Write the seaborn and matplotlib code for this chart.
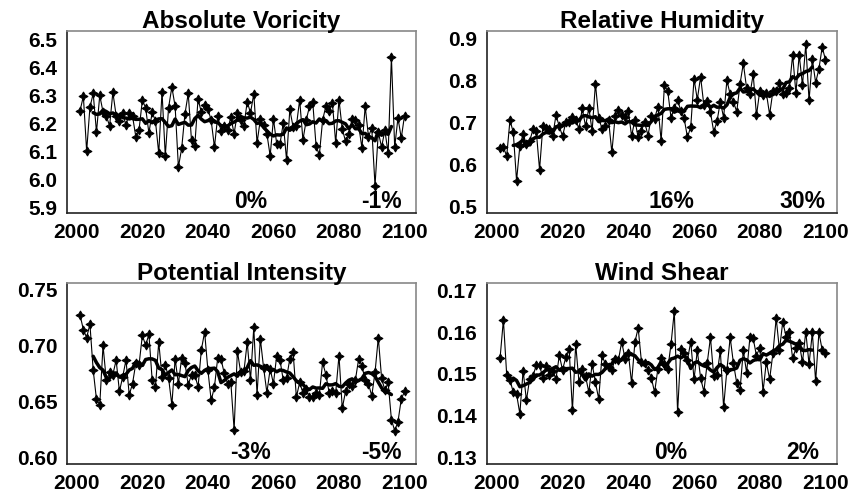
import numpy as np
import pandas as pd
import matplotlib
matplotlib.use("Agg")
import matplotlib.pyplot as plt
import seaborn as sns

years = list(range(2001, 2101))

# -----------------------------
# data
# -----------------------------
vorticity = [
    6.245, 6.296, 6.100, 6.256, 6.306, 6.168, 6.299, 6.240, 6.226, 6.190,
    6.310, 6.227, 6.206, 6.236, 6.192, 6.237, 6.225, 6.152, 6.177, 6.282,
    6.255, 6.164, 6.239, 6.207, 6.092, 6.312, 6.083, 6.255, 6.329, 6.260,
    6.043, 6.110, 6.233, 6.306, 6.138, 6.120, 6.287, 6.238, 6.263, 6.251,
    6.210, 6.114, 6.225, 6.171, 6.190, 6.174, 6.222, 6.162, 6.237, 6.212,
    6.190, 6.277, 6.236, 6.305, 6.129, 6.213, 6.194, 6.162, 6.083, 6.215,
    6.126, 6.126, 6.200, 6.069, 6.249, 6.186, 6.190, 6.283, 6.140, 6.210,
    6.260, 6.274, 6.120, 6.085, 6.210, 6.261, 6.242, 6.271, 6.129, 6.283,
    6.179, 6.135, 6.162, 6.215, 6.210, 6.192, 6.112, 6.260, 6.152, 6.182,
    5.977, 6.168, 6.114, 6.174, 6.093, 6.436, 6.114, 6.219, 6.146, 6.227,
]

humidity = [
    0.639, 0.641, 0.619, 0.705, 0.676, 0.561, 0.643, 0.672, 0.647, 0.655,
    0.683, 0.679, 0.587, 0.690, 0.686, 0.683, 0.667, 0.717, 0.690, 0.667,
    0.700, 0.700, 0.713, 0.706, 0.684, 0.733, 0.690, 0.734, 0.679, 0.792,
    0.710, 0.685, 0.690, 0.705, 0.628, 0.714, 0.728, 0.718, 0.713, 0.727,
    0.667, 0.705, 0.664, 0.680, 0.700, 0.668, 0.714, 0.708, 0.737, 0.656,
    0.788, 0.774, 0.711, 0.733, 0.754, 0.726, 0.709, 0.664, 0.689, 0.803,
    0.754, 0.808, 0.740, 0.751, 0.724, 0.677, 0.702, 0.749, 0.711, 0.800,
    0.766, 0.748, 0.725, 0.791, 0.840, 0.781, 0.766, 0.814, 0.716, 0.775,
    0.765, 0.770, 0.718, 0.774, 0.774, 0.794, 0.766, 0.770, 0.781, 0.860,
    0.770, 0.860, 0.788, 0.885, 0.752, 0.850, 0.794, 0.827, 0.879, 0.848,
]

intensity = [
    0.727, 0.714, 0.707, 0.719, 0.678, 0.652, 0.647, 0.700, 0.669, 0.676,
    0.674, 0.687, 0.659, 0.672, 0.687, 0.656, 0.666, 0.684, 0.683, 0.709,
    0.700, 0.710, 0.669, 0.663, 0.703, 0.672, 0.683, 0.671, 0.647, 0.688,
    0.666, 0.689, 0.684, 0.665, 0.674, 0.674, 0.663, 0.696, 0.712, 0.678,
    0.651, 0.663, 0.689, 0.688, 0.675, 0.666, 0.667, 0.625, 0.695, 0.676,
    0.677, 0.703, 0.669, 0.716, 0.656, 0.706, 0.680, 0.658, 0.679, 0.666,
    0.691, 0.687, 0.669, 0.671, 0.688, 0.694, 0.654, 0.667, 0.658, 0.661,
    0.654, 0.654, 0.658, 0.656, 0.685, 0.674, 0.658, 0.659, 0.658, 0.691,
    0.644, 0.659, 0.666, 0.664, 0.669, 0.688, 0.682, 0.669, 0.666, 0.655,
    0.676, 0.707, 0.671, 0.660, 0.667, 0.634, 0.624, 0.632, 0.652, 0.659,
]

shear = [
    0.1539, 0.1629, 0.1498, 0.1486, 0.1456, 0.1452, 0.1405, 0.1508, 0.1437, 0.1488,
    0.1495, 0.1521, 0.1521, 0.1490, 0.1519, 0.1498, 0.1506, 0.1488, 0.1544, 0.1510,
    0.1540, 0.1560, 0.1413, 0.1571, 0.1480, 0.1511, 0.1494, 0.1456, 0.1524, 0.1480,
    0.1440, 0.1544, 0.1524, 0.1517, 0.1510, 0.1536, 0.1533, 0.1577, 0.1536, 0.1551,
    0.1478, 0.1575, 0.1610, 0.1529, 0.1525, 0.1510, 0.1491, 0.1456, 0.1512, 0.1537,
    0.1524, 0.1511, 0.1571, 0.1650, 0.1408, 0.1559, 0.1549, 0.1533, 0.1577, 0.1487,
    0.1556, 0.1490, 0.1458, 0.1525, 0.1587, 0.1494, 0.1498, 0.1556, 0.1420, 0.1510,
    0.1587, 0.1525, 0.1478, 0.1462, 0.1556, 0.1503, 0.1587, 0.1585, 0.1543, 0.1563,
    0.1458, 0.1529, 0.1487, 0.1549, 0.1633, 0.1557, 0.1625, 0.1589, 0.1601, 0.1537,
    0.1561, 0.1573, 0.1528, 0.1601, 0.1523, 0.1599, 0.1482, 0.1599, 0.1557, 0.1549,
]

titles = ["Absolute Voricity", "Relative Humidity", "Potential Intensity", "Wind Shear"]
series = [vorticity, humidity, intensity, shear]
changes = [("0%", "-1%"), ("16%", "30%"), ("-3%", "-5%"), ("0%", "2%")]
yticks = [
    [5.9, 6.0, 6.1, 6.2, 6.3, 6.4, 6.5],
    [0.5, 0.6, 0.7, 0.8, 0.9],
    [0.60, 0.65, 0.70, 0.75],
    [0.13, 0.14, 0.15, 0.16, 0.17],
]
yfmt = ["{:.1f}", "{:.1f}", "{:.2f}", "{:.2f}"]
ylims = [(5.879, 6.529), (0.484, 0.917), (0.5944, 0.7556), (0.1285, 0.1717)]
xticks = [2000, 2020, 2040, 2060, 2080, 2100]

sns.set_style("white")
plt.rcParams["font.family"] = ["Liberation Sans", "DejaVu Sans"]
plt.rcParams["font.weight"] = "bold"
plt.rcParams["text.color"] = "black"
plt.rcParams["axes.titlecolor"] = "black"

fig = plt.figure(figsize=(8.5, 5.01), dpi=100)

# axes boxes in figure fractions (left, bottom, width, height)
boxes = [
    (0.0788, 0.5749, 0.4106, 0.3632),
    (0.5729, 0.5749, 0.4118, 0.3632),
    (0.0788, 0.0739, 0.4106, 0.3612),
    (0.5729, 0.0739, 0.4118, 0.3612),
]

for i in range(4):
    ax = fig.add_axes(boxes[i])
    df = pd.DataFrame({"year": years, "value": series[i]})
    df["smooth"] = df["value"].rolling(9, center=True).mean()

    sns.lineplot(data=df, x="year", y="value", ax=ax, color="black",
                 linewidth=0.8, marker=(4, 1, 0), markersize=6.5,
                 markeredgecolor="black", markerfacecolor="black")
    sns.lineplot(data=df.dropna(), x="year", y="smooth", ax=ax,
                 color="black", linewidth=2.5)

    ax.set_xlim(1997, 2103.5)
    ax.set_ylim(*ylims[i])
    ax.set_xticks(xticks)
    ax.set_yticks(yticks[i])
    ax.set_yticklabels([yfmt[i].format(v) for v in yticks[i]])
    ax.set_xlabel("")
    ax.set_ylabel("")
    ax.set_title(titles[i], fontsize=17.5, fontweight="bold", pad=2,
                 color="black")
    ax.tick_params(axis="both", direction="out", length=5, width=1,
                   color="#777777", labelcolor="black", labelsize=15, pad=2)
    for lab in ax.get_xticklabels() + ax.get_yticklabels():
        lab.set_fontweight("bold")

    for side in ["left", "bottom"]:
        ax.spines[side].set_color("#222222")
        ax.spines[side].set_linewidth(1.2)
    for side in ["top", "right"]:
        ax.spines[side].set_color("#888888")
        ax.spines[side].set_linewidth(1.2)

    trans = ax.get_xaxis_transform()
    ax.text(2053, 0.0, changes[i][0], transform=trans, ha="center",
            va="bottom", fontsize=16.5, fontweight="bold", color="black")
    ax.text(2093, 0.0, changes[i][1], transform=trans, ha="center",
            va="bottom", fontsize=16.5, fontweight="bold", color="black")

fig.savefig("out.png", dpi=100)
